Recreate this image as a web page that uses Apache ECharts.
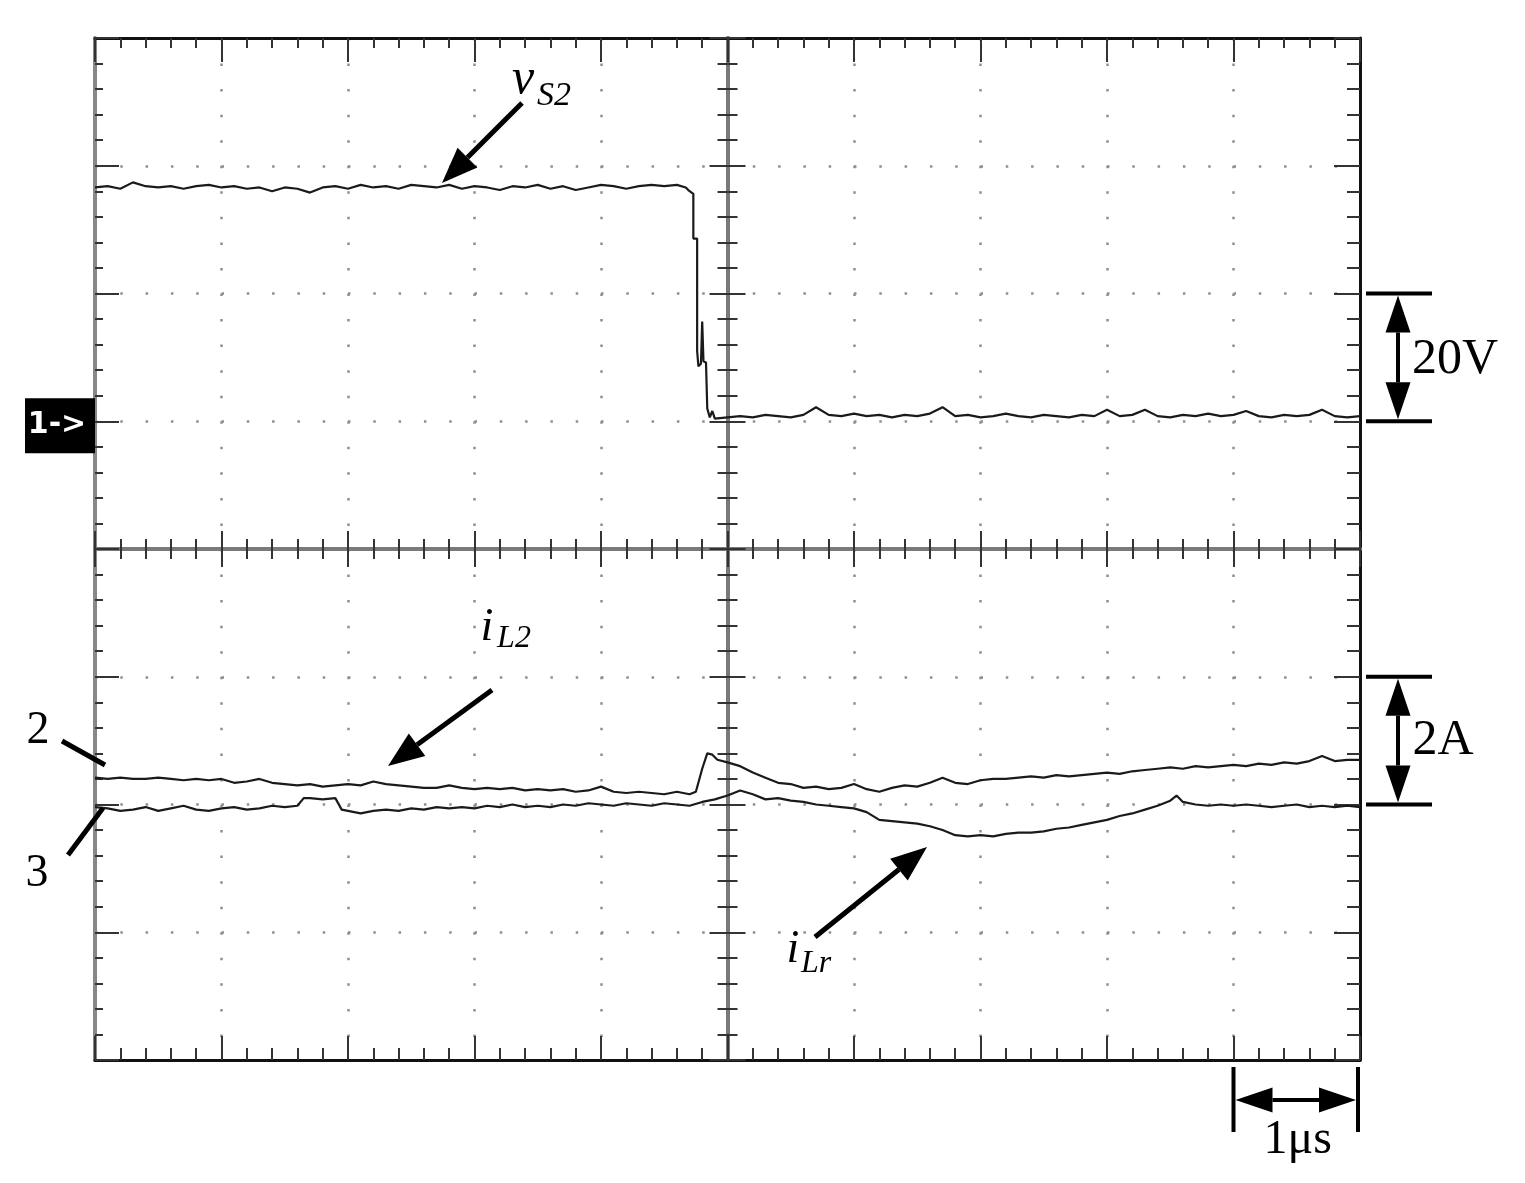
<!DOCTYPE html>
<html><head><meta charset="utf-8">
<script src="https://cdn.jsdelivr.net/npm/echarts@6/dist/echarts.min.js"></script>
<style>html,body{margin:0;padding:0;background:#fff}#c{width:1525px;height:1183px}</style>
</head><body><div id="c"></div>
<script>
// Time in divisions (1 div = 1 µs), value in divisions (ch1 20 V/div, ch2/ch3 2 A/div)
const vS2 = [[-5.0,2.83],[-4.9,2.84],[-4.8,2.82],[-4.7,2.87],[-4.6,2.84],[-4.5,2.83],[-4.4,2.84],[-4.3,2.82],[-4.2,2.84],[-4.1,2.85],[-4.0,2.83],[-3.9,2.84],[-3.8,2.82],[-3.7,2.83],[-3.6,2.80],[-3.5,2.83],[-3.4,2.82],[-3.3,2.79],[-3.2,2.83],[-3.1,2.84],[-3.0,2.82],[-2.9,2.85],[-2.8,2.83],[-2.7,2.84],[-2.6,2.82],[-2.5,2.85],[-2.4,2.84],[-2.3,2.83],[-2.2,2.85],[-2.1,2.82],[-2.0,2.84],[-1.9,2.83],[-1.8,2.81],[-1.7,2.84],[-1.6,2.83],[-1.5,2.85],[-1.4,2.82],[-1.3,2.84],[-1.2,2.81],[-1.1,2.83],[-1.0,2.85],[-0.9,2.84],[-0.8,2.82],[-0.7,2.84],[-0.6,2.85],[-0.5,2.84],[-0.4,2.85],[-0.33,2.83],[-0.31,2.81],[-0.27,2.78],[-0.27,2.43],[-0.24,2.43],[-0.24,1.55],[-0.23,1.43],[-0.21,1.45],[-0.20,1.78],[-0.19,1.47],[-0.17,1.46],[-0.16,1.10],[-0.14,1.03],[-0.12,1.08],[-0.10,1.02],
[0.0,1.03],[0.1,1.04],[0.2,1.03],[0.3,1.05],[0.4,1.04],[0.5,1.03],[0.6,1.05],[0.7,1.11],[0.8,1.05],[0.9,1.04],[1.0,1.06],[1.1,1.04],[1.2,1.05],[1.3,1.03],[1.4,1.05],[1.5,1.04],[1.6,1.06],[1.7,1.11],[1.8,1.04],[1.9,1.05],[2.0,1.03],[2.1,1.04],[2.2,1.06],[2.3,1.04],[2.4,1.03],[2.5,1.05],[2.6,1.04],[2.7,1.03],[2.8,1.05],[2.9,1.04],[3.0,1.09],[3.1,1.04],[3.2,1.05],[3.3,1.09],[3.4,1.04],[3.5,1.03],[3.6,1.05],[3.7,1.04],[3.8,1.06],[3.9,1.04],[4.0,1.05],[4.1,1.08],[4.2,1.04],[4.3,1.03],[4.4,1.05],[4.5,1.04],[4.6,1.05],[4.7,1.09],[4.8,1.04],[4.9,1.03],[5.0,1.04]];

const iL2 = [[-5.0,-1.79],[-4.9,-1.80],[-4.8,-1.79],[-4.7,-1.80],[-4.6,-1.80],[-4.5,-1.79],[-4.4,-1.80],[-4.3,-1.81],[-4.2,-1.80],[-4.1,-1.81],[-4.0,-1.80],[-3.9,-1.83],[-3.8,-1.82],[-3.7,-1.80],[-3.6,-1.83],[-3.5,-1.84],[-3.4,-1.85],[-3.3,-1.84],[-3.2,-1.86],[-3.1,-1.85],[-3.0,-1.84],[-2.9,-1.85],[-2.8,-1.82],[-2.7,-1.84],[-2.6,-1.85],[-2.5,-1.86],[-2.4,-1.87],[-2.3,-1.87],[-2.2,-1.85],[-2.1,-1.87],[-2.0,-1.88],[-1.9,-1.87],[-1.8,-1.88],[-1.7,-1.87],[-1.6,-1.89],[-1.5,-1.88],[-1.4,-1.89],[-1.3,-1.88],[-1.2,-1.90],[-1.1,-1.89],[-1.0,-1.86],[-0.9,-1.90],[-0.8,-1.91],[-0.7,-1.90],[-0.6,-1.91],[-0.5,-1.92],[-0.4,-1.90],[-0.3,-1.92],[-0.25,-1.90],[-0.2,-1.72],[-0.16,-1.60],[-0.12,-1.61],[-0.08,-1.65],[0.0,-1.67],[0.1,-1.70],[0.2,-1.75],[0.3,-1.79],[0.4,-1.83],[0.5,-1.84],[0.6,-1.87],[0.7,-1.86],[0.8,-1.88],[0.9,-1.87],[1.0,-1.84],[1.1,-1.88],[1.2,-1.90],[1.3,-1.87],[1.4,-1.85],[1.5,-1.86],[1.6,-1.83],[1.7,-1.79],[1.8,-1.83],[1.9,-1.84],[2.0,-1.81],[2.1,-1.80],[2.2,-1.80],[2.3,-1.79],[2.4,-1.78],[2.5,-1.79],[2.6,-1.77],[2.7,-1.78],[2.8,-1.77],[2.9,-1.76],[3.0,-1.75],[3.1,-1.76],[3.2,-1.74],[3.3,-1.73],[3.4,-1.72],[3.5,-1.71],[3.6,-1.72],[3.7,-1.70],[3.8,-1.71],[3.9,-1.70],[4.0,-1.69],[4.1,-1.70],[4.2,-1.68],[4.3,-1.69],[4.4,-1.67],[4.5,-1.68],[4.6,-1.66],[4.7,-1.62],[4.8,-1.66],[4.9,-1.65],[5.0,-1.65]];

const iLr = [[-5.0,-2.02],[-4.9,-2.03],[-4.8,-2.05],[-4.7,-2.04],[-4.6,-2.02],[-4.5,-2.05],[-4.4,-2.03],[-4.3,-2.01],[-4.2,-2.04],[-4.1,-2.05],[-4.0,-2.03],[-3.9,-2.02],[-3.8,-2.04],[-3.7,-2.03],[-3.6,-2.01],[-3.5,-2.02],[-3.4,-2.01],[-3.35,-1.95],[-3.3,-1.95],[-3.2,-1.96],[-3.1,-1.95],[-3.05,-2.04],[-3.0,-2.05],[-2.9,-2.07],[-2.8,-2.05],[-2.7,-2.04],[-2.6,-2.05],[-2.5,-2.03],[-2.4,-2.04],[-2.3,-2.02],[-2.2,-2.03],[-2.1,-2.02],[-2.0,-2.03],[-1.9,-2.01],[-1.8,-2.02],[-1.7,-2.00],[-1.6,-2.02],[-1.5,-2.01],[-1.4,-2.02],[-1.3,-2.00],[-1.2,-2.01],[-1.1,-1.99],[-1.0,-2.00],[-0.9,-2.01],[-0.8,-1.99],[-0.7,-2.00],[-0.6,-2.01],[-0.5,-1.99],[-0.4,-2.00],[-0.3,-2.01],[-0.2,-1.98],[-0.1,-1.96],[0.0,-1.93],[0.1,-1.89],[0.2,-1.92],[0.3,-1.96],[0.4,-1.95],[0.5,-1.97],[0.6,-1.98],[0.7,-2.00],[0.8,-2.01],[0.9,-2.02],[1.0,-2.03],[1.1,-2.06],[1.2,-2.12],[1.3,-2.13],[1.4,-2.14],[1.5,-2.15],[1.6,-2.17],[1.7,-2.20],[1.8,-2.24],[1.9,-2.25],[2.0,-2.24],[2.1,-2.25],[2.2,-2.23],[2.3,-2.22],[2.4,-2.22],[2.5,-2.21],[2.6,-2.19],[2.7,-2.18],[2.8,-2.16],[2.9,-2.14],[3.0,-2.12],[3.1,-2.09],[3.2,-2.07],[3.3,-2.04],[3.4,-2.01],[3.5,-1.97],[3.55,-1.93],[3.6,-1.98],[3.7,-2.00],[3.8,-2.01],[3.9,-2.00],[4.0,-2.01],[4.1,-2.00],[4.2,-2.01],[4.3,-2.02],[4.4,-2.01],[4.5,-2.00],[4.6,-2.02],[4.7,-2.01],[4.8,-2.02],[4.9,-2.01],[5.0,-2.02]];

const xRange = [-5, 5];
const yRange = [-4, 4];

const chart = echarts.init(document.getElementById('c'));

function xAx(pos, inside, onZero, lineColor, lineW, tickLen, minorLen, split) {
  return {
    type: 'value', position: pos, min: xRange[0], max: xRange[1], interval: 1,
    axisLine: { show: true, onZero: onZero, onZeroAxisIndex: 0, lineStyle: { color: lineColor, width: lineW } },
    axisTick: { show: true, inside: inside, length: tickLen, lineStyle: { color: '#333', width: 2 } },
    minorTick: { show: true, splitNumber: 5, length: minorLen, lineStyle: { color: '#333', width: 2 } },
    axisLabel: { show: false },
    splitLine: { show: split, lineStyle: { color: '#8f8f8f', width: 2.5, type: [2.5, 23.05] } }
  };
}
function yAx(pos, inside, onZero, lineColor, lineW, tickLen, minorLen, split) {
  return {
    type: 'value', position: pos, min: yRange[0], max: yRange[1], interval: 1,
    axisLine: { show: true, onZero: onZero, onZeroAxisIndex: 0, lineStyle: { color: lineColor, width: lineW } },
    axisTick: { show: true, inside: inside, length: tickLen, lineStyle: { color: '#333', width: 2 } },
    minorTick: { show: true, splitNumber: 5, length: minorLen, lineStyle: { color: '#333', width: 2 } },
    axisLabel: { show: false },
    splitLine: { show: split, lineStyle: { color: '#8f8f8f', width: 2.5, type: [2.5, 22.8] } }
  };
}

const traceStyle = { color: '#1a1a1a', width: 2.2 };

chart.setOption({
  animation: false,
  backgroundColor: '#fff',
  grid: { left: 95, top: 38, right: 165, bottom: 123, outerBoundsMode: 'none', containLabel: false },
  xAxis: [
    xAx('bottom', true, false, '#111', 3, 24, 12, true),
    xAx('top', true, false, '#111', 3, 24, 10, false),
    xAx('bottom', true, true, '#7a7a7a', 4, 18, 10, false),
    xAx('bottom', false, true, '#7a7a7a', 4, 18, 10, false)
  ],
  yAxis: [
    yAx('left', true, false, '#888', 4, 24, 8, true),
    yAx('right', true, false, '#111', 3, 26, 13, false),
    yAx('left', true, true, '#7a7a7a', 4, 18, 10, false),
    yAx('left', false, true, '#7a7a7a', 4, 18, 10, false)
  ],
  series: [
    { name: 'vS2', type: 'line', data: vS2, showSymbol: false, lineStyle: traceStyle, z: 5 },
    { name: 'iL2', type: 'line', data: iL2, showSymbol: false, lineStyle: traceStyle, z: 5 },
    { name: 'iLr', type: 'line', data: iLr, showSymbol: false, lineStyle: traceStyle, z: 5 }
  ]
});

// ---- annotations ----
const px = (x, y) => chart.convertToPixel({ xAxisIndex: 0, yAxisIndex: 0 }, [x, y]);
function head(tip, from, len, half) {
  const dx = tip[0] - from[0], dy = tip[1] - from[1], d = Math.hypot(dx, dy);
  const ux = dx / d, uy = dy / d;
  const bx = tip[0] - ux * len, by = tip[1] - uy * len;
  return { shape: [[tip[0], tip[1]], [bx - uy * half, by + ux * half], [bx + uy * half, by - ux * half]], base: [bx, by] };
}
const G = [];
function line(a, b, w) { G.push({ type: 'line', shape: { x1: a[0], y1: a[1], x2: b[0], y2: b[1] }, style: { stroke: '#000', lineWidth: w }, z: 50 }); }
function poly(pts) { G.push({ type: 'polygon', shape: { points: pts }, style: { fill: '#000' }, z: 50 }); }
function arrow(tail, tip, len, half, w) {
  const h = head(tip, tail, len, half);
  line(tail, h.base, w); poly(h.shape);
}
function dbl(a, b, len, half, w) {
  const h1 = head(a, b, len, half), h2 = head(b, a, len, half);
  line(h1.base, h2.base, w); poly(h1.shape); poly(h2.shape);
}
function text(t, x, y, font, fill) {
  G.push({ type: 'text', z: 60, style: { text: t, x: x, y: y, font: font, fill: fill || '#000', align: 'center', verticalAlign: 'middle', textAlign: 'center', textVerticalAlign: 'middle' } });
}
const serif = '"Liberation Serif", "Times New Roman", serif';

// 20V scale bar (ch1 1 div)
const v2 = px(5, 2), v1 = px(5, 1);
const bx = v2[0] + 38;
line([v2[0] + 6, v2[1]], [v2[0] + 72, v2[1]], 4);
line([v1[0] + 6, v1[1]], [v1[0] + 72, v1[1]], 4);
dbl([bx, v2[1] + 2], [bx, v1[1] - 2], 37, 12.5, 4);
text('20V', bx + 57, (v2[1] + v1[1]) / 2 + 2, '50px ' + serif);

// 2A scale bar
const a2 = px(5, -1), a1 = px(5, -2);
line([a2[0] + 6, a2[1]], [a2[0] + 72, a2[1]], 4);
line([a1[0] + 6, a1[1]], [a1[0] + 72, a1[1]], 4);
dbl([bx, a2[1] + 2], [bx, a1[1] - 2], 37, 12.5, 4);
text('2A', bx + 45, (a2[1] + a1[1]) / 2, '50px ' + serif);

// 1 µs scale bar
const t0 = px(4, -4), t1 = px(5, -4);
const by = t0[1] + 40;
line([t0[0], t0[1] + 7], [t0[0], t0[1] + 72], 4);
line([t1[0] - 2, t1[1] + 7], [t1[0] - 2, t1[1] + 72], 4);
dbl([t0[0] + 2, by], [t1[0] - 4, by], 37, 12.5, 4);
text('1μs', (t0[0] + t1[0]) / 2 + 1, by + 40, '48px ' + serif);

// channel 1 marker
const m = px(-5, 1);
G.push({ type: 'rect', z: 60, shape: { x: m[0] - 70, y: m[1] - 23, width: 70, height: 55 }, style: { fill: '#000' } });
text('1->', m[0] - 38, m[1] + 4, 'bold 30px "DejaVu Sans", sans-serif', '#fff');

// channel 2 / 3 labels
text('2', 38, 731, '46px ' + serif);
line([62, 741], [105, 765], 5);
text('3', 37, 874, '46px ' + serif);
line([68, 855], [103, 808], 5);

// trace labels and arrows
text('v', 523, 80, 'italic 50px ' + serif);
text('S2', 554, 96, 'italic 34px ' + serif);
arrow([522, 103], [442, 183], 36, 14, 5);

text('i', 487, 628, 'italic 46px ' + serif);
text('L2', 514, 639, 'italic 32px ' + serif);
arrow([492, 690], [388, 766], 36, 14, 5);

text('i', 793, 950, 'italic 46px ' + serif);
text('Lr', 816, 964, 'italic 32px ' + serif);
arrow([815, 937], [927, 847], 36, 14, 5);

chart.setOption({ graphic: G });
</script></body></html>
